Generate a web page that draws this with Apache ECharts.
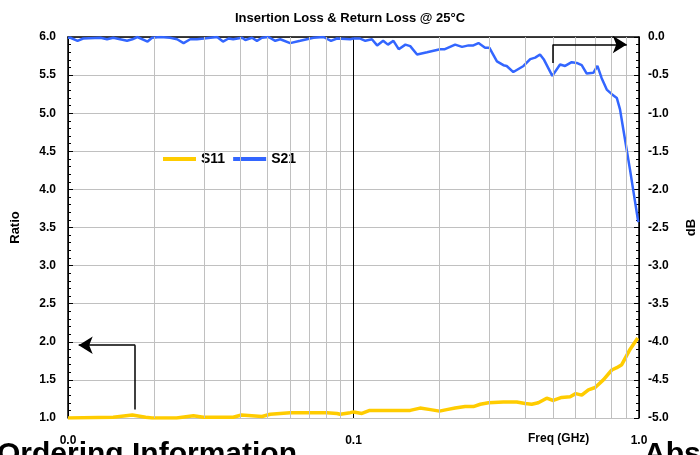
<!DOCTYPE html>
<html>
<head>
<meta charset="utf-8">
<script src="https://cdn.jsdelivr.net/npm/echarts@6/dist/echarts.min.js"></script>
<style>
  html, body { margin: 0; padding: 0; background: #fff; }
  #main { width: 700px; height: 455px; }
</style>
</head>
<body>
<div id="main"></div>
<script>
// S11 (ratio, left axis)
var s11Freq = [0.0100, 0.0144, 0.0168, 0.0187, 0.0197, 0.0240, 0.0275, 0.0298, 0.0379, 0.0405,
  0.0478, 0.0511, 0.0600, 0.0666, 0.0722, 0.0807, 0.0875, 0.0898, 0.0974, 0.100,
  0.107, 0.114, 0.134, 0.158, 0.171, 0.186, 0.200, 0.212, 0.227, 0.246,
  0.263, 0.278, 0.297, 0.335, 0.373, 0.399, 0.421, 0.444, 0.475, 0.501,
  0.536, 0.574, 0.600, 0.630, 0.665, 0.702, 0.750, 0.803, 0.836, 0.870,
  0.930, 0.990];
var s11Ratio = [1.00, 1.01, 1.04, 1.01, 1.00, 1.00, 1.03, 1.01, 1.01, 1.04,
  1.02, 1.05, 1.07, 1.07, 1.07, 1.07, 1.06, 1.05, 1.07, 1.08,
  1.06, 1.10, 1.10, 1.10, 1.13, 1.11, 1.09, 1.11, 1.13, 1.15,
  1.15, 1.18, 1.20, 1.21, 1.21, 1.19, 1.18, 1.20, 1.26, 1.23,
  1.27, 1.28, 1.32, 1.30, 1.37, 1.40, 1.50, 1.63, 1.66, 1.70,
  1.90, 2.05];

// S21 (dB, right axis)
var s21Freq = [0.0100, 0.0102, 0.0108, 0.0113, 0.0130, 0.0137, 0.0144, 0.0161, 0.0168, 0.0175,
  0.0190, 0.0197, 0.0211, 0.0228, 0.0241, 0.0254, 0.0268, 0.0283, 0.0299, 0.0333,
  0.0349, 0.0365, 0.0379, 0.0407, 0.0418, 0.0441, 0.0459, 0.0478, 0.0504, 0.0532,
  0.0554, 0.0600, 0.0651, 0.0724, 0.0785, 0.0834, 0.0875, 0.0974, 0.100, 0.1056,
  0.110, 0.116, 0.121, 0.127, 0.132, 0.138, 0.144, 0.152, 0.158, 0.167,
  0.181, 0.201, 0.209, 0.227, 0.240, 0.253, 0.263, 0.274, 0.289, 0.299,
  0.318, 0.335, 0.344, 0.363, 0.394, 0.416, 0.433, 0.450, 0.465, 0.497,
  0.529, 0.551, 0.581, 0.605, 0.630, 0.656, 0.692, 0.715, 0.740, 0.771,
  0.803, 0.836, 0.858, 0.881, 0.930, 0.994];
var s21Db = [-0.01, -0.01, -0.05, -0.02, -0.01, -0.03, -0.01, -0.05, -0.03, 0.00,
  -0.06, -0.01, 0.00, -0.01, -0.03, -0.08, -0.03, -0.03, -0.02, 0.00,
  -0.06, -0.02, -0.03, -0.01, -0.04, -0.01, -0.05, -0.01, 0.00, -0.05,
  -0.03, -0.08, -0.05, -0.01, 0.00, -0.05, -0.02, -0.03, -0.02, -0.02,
  -0.05, -0.03, -0.11, -0.05, -0.10, -0.05, -0.16, -0.10, -0.12, -0.23,
  -0.20, -0.16, -0.16, -0.10, -0.13, -0.11, -0.11, -0.08, -0.14, -0.14,
  -0.32, -0.37, -0.38, -0.46, -0.38, -0.29, -0.27, -0.23, -0.30, -0.51,
  -0.36, -0.38, -0.33, -0.34, -0.37, -0.48, -0.47, -0.38, -0.54, -0.69,
  -0.75, -0.80, -0.95, -1.21, -1.74, -2.43];

// minor vertical grid lines of the log axis
var minorFreqs = [0.02, 0.03, 0.04, 0.05, 0.06, 0.07, 0.08, 0.09,
  0.2, 0.3, 0.4, 0.5, 0.6, 0.7, 0.8, 0.9];

// arrow pointers: [freq, value]
var arrowS11 = [[0.0172, 1.11], [0.0172, 1.955], [0.0109, 1.955]];
var arrowS21 = [[0.5, -0.34], [0.5, -0.098], [0.906, -0.098]];

function zip(a, b) {
  return a.map(function (v, i) { return [v, b[i]]; });
}

function arrowLines(pts) {
  return [
    [{ coord: pts[0], symbol: 'none' }, { coord: pts[1], symbol: 'none' }],
    [{ coord: pts[1], symbol: 'none' }, { coord: pts[2], symbol: 'arrow', symbolSize: [13, 14] }]
  ];
}

var font = 'Liberation Sans, Arial, sans-serif';
var chart = echarts.init(document.getElementById('main'), null, { renderer: 'canvas' });

chart.setOption({
  animation: false,
  backgroundColor: '#fff',
  title: {
    text: 'Insertion Loss & Return Loss @ 25°C',
    left: 'center',
    top: 7,
    textStyle: { fontFamily: font, fontSize: 13, fontWeight: 'bold', color: '#000' }
  },
  legend: {
    data: ['S11', 'S21'],
    left: 158,
    top: 147,
    icon: 'rect',
    itemWidth: 33,
    itemHeight: 4,
    itemGap: 8,
    textStyle: { fontFamily: font, fontSize: 14, fontWeight: 'bold', color: '#000' }
  },
  grid: { left: 68, right: 61, top: 37, bottom: 37, containLabel: false, outerBoundsMode: 'none' },
  xAxis: {
    type: 'log',
    logBase: 10,
    min: 0.01,
    max: 1,
    axisLine: { lineStyle: { color: '#000', width: 1.5 } },
    axisTick: { show: false },
    axisLabel: {
      margin: 17,
      fontFamily: font, fontSize: 12, fontWeight: 'bold', color: '#000',
      formatter: function (v) { return v.toFixed(1); }
    },
    splitLine: { show: true, lineStyle: { color: '#000', width: 1 } }
  },
  yAxis: [
    {
      type: 'value',
      position: 'left',
      min: 1, max: 6, interval: 0.5,
      name: 'Ratio',
      nameLocation: 'middle',
      nameGap: 46,
      nameRotate: 90,
      nameTextStyle: { fontFamily: font, fontSize: 13, fontWeight: 'bold', color: '#000' },
      axisLine: { show: true, lineStyle: { color: '#000', width: 1.5 } },
      axisTick: { show: true, inside: true, length: 5, lineStyle: { color: '#000' } },
      minorTick: { show: true, splitNumber: 5, length: 3, lineStyle: { color: '#000' } },
      axisLabel: {
        margin: 12,
        fontFamily: font, fontSize: 12, fontWeight: 'bold', color: '#000',
        formatter: function (v) { return v.toFixed(1); }
      },
      splitLine: { show: true, lineStyle: { color: '#c0c0c0', width: 1 } }
    },
    {
      type: 'value',
      position: 'right',
      min: -5, max: 0, interval: 0.5,
      name: 'dB',
      nameLocation: 'middle',
      nameGap: 46,
      nameRotate: 90,
      nameTextStyle: { fontFamily: font, fontSize: 13, fontWeight: 'bold', color: '#000' },
      axisLine: { show: true, lineStyle: { color: '#000', width: 1.5 } },
      axisTick: { show: true, inside: true, length: 5, lineStyle: { color: '#000' } },
      minorTick: { show: true, splitNumber: 5, length: 3, lineStyle: { color: '#000' } },
      axisLabel: {
        margin: 9,
        fontFamily: font, fontSize: 12, fontWeight: 'bold', color: '#000',
        formatter: function (v) { return v.toFixed(1); }
      },
      splitLine: { show: false }
    }
  ],
  graphic: [
    { type: 'text', left: 528, top: 433,
      style: { text: 'Freq (GHz)', font: 'bold 12px ' + font, fill: '#000' } },
    { type: 'text', left: -3, top: 440,
      style: { text: 'Ordering Information', font: 'bold 30px ' + font, fill: '#000' } },
    { type: 'text', left: 644, top: 440,
      style: { text: 'Abs', font: 'bold 30px ' + font, fill: '#000' } }
  ],
  series: [
    {
      type: 'line',
      data: [],
      z: 1,
      silent: true,
      markLine: {
        silent: true,
        symbol: ['none', 'none'],
        label: { show: false },
        emphasis: { disabled: true },
        lineStyle: { color: '#c0c0c0', type: 'solid', width: 1 },
        data: minorFreqs.map(function (f) { return { xAxis: f }; })
      }
    },
    {
      type: 'line',
      data: [],
      z: 4,
      silent: true,
      markLine: {
        silent: true,
        label: { show: false },
        emphasis: { disabled: true },
        lineStyle: { color: '#000', type: 'solid', width: 1.5 },
        data: arrowLines(arrowS11)
      }
    },
    {
      type: 'line',
      yAxisIndex: 1,
      data: [],
      z: 4,
      silent: true,
      markLine: {
        silent: true,
        label: { show: false },
        emphasis: { disabled: true },
        lineStyle: { color: '#000', type: 'solid', width: 1.5 },
        data: arrowLines(arrowS21)
      }
    },
    {
      name: 'S11',
      type: 'line',
      yAxisIndex: 0,
      z: 3,
      showSymbol: false,
      symbol: 'none',
      color: '#FFCC00',
      lineStyle: { color: '#FFCC00', width: 3.5 },
      data: zip(s11Freq, s11Ratio)
    },
    {
      name: 'S21',
      type: 'line',
      yAxisIndex: 1,
      z: 3,
      showSymbol: false,
      symbol: 'none',
      color: '#3366FF',
      lineStyle: { color: '#3366FF', width: 2.5 },
      data: zip(s21Freq, s21Db)
    }
  ]
});
</script>
</body>
</html>
